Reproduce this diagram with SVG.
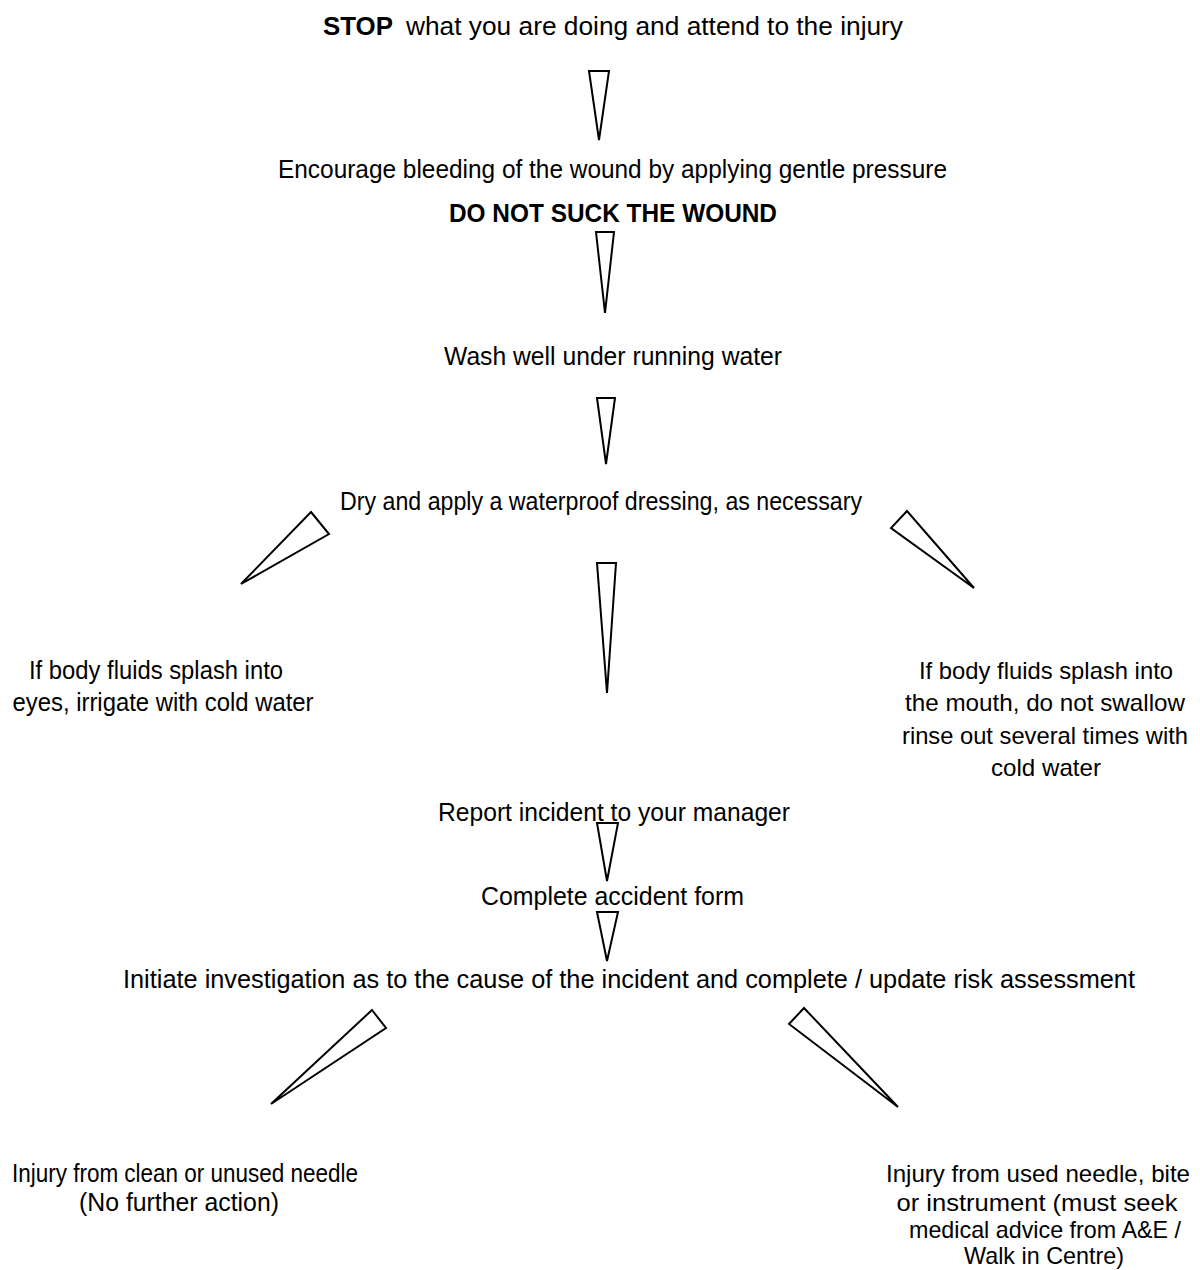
<svg xmlns="http://www.w3.org/2000/svg" width="1200" height="1270" viewBox="0 0 1200 1270">
<style>
text{font-family:"Liberation Sans",Arial,sans-serif;font-size:26px;fill:#000;}
.c{text-anchor:middle;}
.b{font-weight:bold;}
.s{font-size:24px;}
.arr{fill:#fff;stroke:#000;stroke-width:2;stroke-linejoin:miter;}
</style>
<rect width="1200" height="1270" fill="#fff"/>
<g id="n-stop">
<text x="323" y="35" class="b" textLength="70" lengthAdjust="spacingAndGlyphs">STOP</text>
<text x="406" y="35" textLength="497" lengthAdjust="spacingAndGlyphs">what you are doing and attend to the injury</text>
</g>
<g id="n-encourage">
<text x="612.5" y="178" class="c" textLength="669" lengthAdjust="spacingAndGlyphs">Encourage bleeding of the wound by applying gentle pressure</text>
<text x="613" y="222" class="c b" textLength="328" lengthAdjust="spacingAndGlyphs">DO NOT SUCK THE WOUND</text>
</g>
<g id="n-wash">
<text x="613" y="365" class="c" textLength="338" lengthAdjust="spacingAndGlyphs">Wash well under running water</text>
</g>
<g id="n-dry">
<text x="601" y="510" class="c" textLength="522" lengthAdjust="spacingAndGlyphs">Dry and apply a waterproof dressing, as necessary</text>
</g>
<g id="n-eyes">
<text x="156" y="679" class="c" textLength="254" lengthAdjust="spacingAndGlyphs">If body fluids splash into</text>
<text x="163" y="711" class="c" textLength="301" lengthAdjust="spacingAndGlyphs">eyes, irrigate with cold water</text>
</g>
<g id="n-mouth">
<text x="1046" y="679" class="c s" textLength="254" lengthAdjust="spacingAndGlyphs">If body fluids splash into</text>
<text x="1045" y="711" class="c s" textLength="280" lengthAdjust="spacingAndGlyphs">the mouth, do not swallow</text>
<text x="1045" y="744" class="c s" textLength="286" lengthAdjust="spacingAndGlyphs">rinse out several times with</text>
<text x="1046" y="776" class="c s" textLength="110" lengthAdjust="spacingAndGlyphs">cold water</text>
</g>
<g id="n-report">
<text x="614" y="821" class="c" textLength="352" lengthAdjust="spacingAndGlyphs">Report incident to your manager</text>
</g>
<g id="n-complete">
<text x="612.5" y="905" class="c" textLength="263" lengthAdjust="spacingAndGlyphs">Complete accident form</text>
</g>
<g id="n-initiate">
<text x="629" y="988" class="c" textLength="1012" lengthAdjust="spacingAndGlyphs">Initiate investigation as to the cause of the incident and complete / update risk assessment</text>
</g>
<g id="n-clean">
<text x="185" y="1182" class="c" textLength="346" lengthAdjust="spacingAndGlyphs">Injury from clean or unused needle</text>
<text x="179" y="1211" class="c" textLength="200" lengthAdjust="spacingAndGlyphs">(No further action)</text>
</g>
<g id="n-used">
<text x="1038" y="1182" class="c s" textLength="304" lengthAdjust="spacingAndGlyphs">Injury from used needle, bite</text>
<text x="1037" y="1211" class="c s" textLength="281" lengthAdjust="spacingAndGlyphs">or instrument (must seek</text>
<text x="1045" y="1238" class="c s" textLength="272" lengthAdjust="spacingAndGlyphs">medical advice from A&amp;E /</text>
<text x="1044" y="1264" class="c s" textLength="160" lengthAdjust="spacingAndGlyphs">Walk in Centre)</text>
</g>
<g id="connectors">
<polygon class="arr" points="589,71 609,71 599,140"/>
<polygon class="arr" points="596,232 614,232 605,313"/>
<polygon class="arr" points="597,398 615,398 606,464"/>
<polygon class="arr" points="597,563 616,563 607,693"/>
<polygon class="arr" points="311,512 329,534 241,584"/>
<polygon class="arr" points="907,511 891,528 974,588"/>
<polygon class="arr" points="597,823 618,823 607,881"/>
<polygon class="arr" points="597,912 618,912 607,961"/>
<polygon class="arr" points="372,1010 386,1028 271,1104"/>
<polygon class="arr" points="804,1008 789,1024 898,1107"/>
</g>
</svg>
